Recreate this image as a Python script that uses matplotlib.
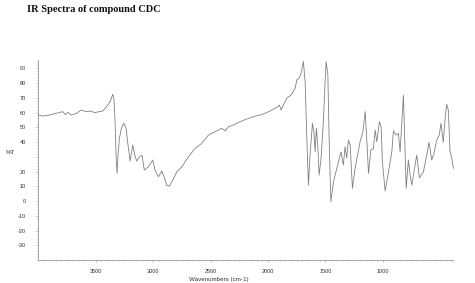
import matplotlib.pyplot as plt
from matplotlib.ticker import MultipleLocator

wavenumber = [3997, 3962, 3904, 3846, 3787, 3765, 3744, 3715, 3672, 3628, 3584, 3541,
              3512, 3469, 3439, 3396, 3375, 3352, 3341, 3332, 3323, 3314, 3306, 3294,
              3277, 3256, 3236, 3219, 3201, 3178, 3160, 3143, 3120, 3097, 3077, 3042,
              3004, 2984, 2955, 2925, 2905, 2882, 2859, 2829, 2795, 2751, 2693, 2635,
              2577, 2519, 2461, 2403, 2374, 2345, 2302, 2243, 2185, 2127, 2070, 2026,
              1982, 1967, 1915, 1901, 1886, 1866, 1837, 1799, 1764, 1749, 1727, 1712,
              1692, 1677, 1662, 1648, 1634, 1613, 1599, 1590, 1579, 1567, 1555, 1538,
              1518, 1503, 1494, 1479, 1468, 1453, 1430, 1401, 1364, 1344, 1329, 1315,
              1300, 1285, 1265, 1242, 1198, 1174, 1154, 1139, 1125, 1105, 1082, 1067,
              1053, 1030, 1015, 1004, 980, 951, 922, 908, 885, 865, 850, 835,
              821, 806, 797, 778, 763, 748, 719, 705, 682, 647, 618, 598,
              575, 555, 531, 509, 494, 474, 459, 444, 430, 415, 400, 386]
transmittance = [58.3, 57.6, 58.3, 59.5, 60.6, 58.6, 60.1, 58.3, 59.2, 61.7, 60.6, 61.0,
                 59.9, 60.6, 61.0, 65.0, 67.3, 72.4, 68.5, 53.8, 31.0, 18.8, 31.0, 42.5,
                 49.3, 52.7, 49.3, 38.0, 27.1, 38.0, 31.0, 27.1, 30.0, 31.0, 21.0, 23.2,
                 27.8, 21.0, 16.5, 20.3, 16.5, 10.8, 10.1, 14.2, 19.8, 23.2, 30.0, 35.7,
                 39.1, 44.7, 47.0, 49.3, 47.5, 50.4, 51.5, 53.8, 55.6, 57.2, 58.3, 59.5,
                 61.0, 61.7, 64.0, 65.1, 61.7, 65.1, 69.6, 71.9, 76.4, 82.1, 83.6, 86.6,
                 94.5, 80.9, 42.5, 10.8, 31.2, 52.7, 45.9, 33.4, 49.3, 38.0, 17.6, 29.0,
                 53.8, 80.9, 94.5, 85.5, 42.5, -0.5, 13.0, 22.2, 33.4, 24.4, 36.8, 29.0,
                 41.4, 38.0, 8.6, 22.2, 40.2, 47.0, 60.6, 40.2, 18.8, 34.6, 35.7, 48.1,
                 40.2, 53.8, 50.4, 26.6, 6.8, 19.8, 33.4, 47.5, 44.7, 45.9, 33.4, 53.8,
                 71.9, 31.2, 8.6, 27.8, 17.6, 10.8, 24.4, 31.2, 15.8, 19.8, 31.2, 39.8,
                 27.8, 32.3, 41.4, 44.7, 52.7, 39.8, 54.9, 65.6, 61.7, 33.4, 29.0, 22.2]

x_ticks = [3500, 3000, 2500, 2000, 1500, 1000]
y_ticks = [-30, -20, -10, 0, 10, 20, 30, 40, 50, 60, 70, 80, 90]
y_labels = ["-30", "-20", "-10", "0", "10", "20", "", "40", "50", "60", "70", "80", "90"]

fig = plt.figure(figsize=(4.75, 2.83), dpi=100)
ax = fig.add_axes([0.079, 0.081, 0.875, 0.707])

ax.plot(wavenumber, transmittance, color="#808080", linewidth=0.6, clip_on=False)

ax.set_xlim(4007, 388)
ax.set_ylim(-40, 95.6)
ax.set_xticks(x_ticks)
ax.set_yticks(y_ticks)
ax.set_yticklabels(y_labels)
ax.xaxis.set_minor_locator(MultipleLocator(50))
ax.yaxis.set_minor_locator(MultipleLocator(2))

for side in ["top", "right"]:
    ax.spines[side].set_visible(False)
for side in ["left", "bottom"]:
    ax.spines[side].set_color("#9a9a9a")
    ax.spines[side].set_linewidth(0.6)

ax.tick_params(which="both", colors="#9a9a9a", width=0.5, labelcolor="#333333",
               labelsize=4, direction="out")
ax.tick_params(which="major", length=1.5)
ax.tick_params(axis="y", which="major", pad=7)
ax.tick_params(axis="x", which="major", pad=5)
ax.tick_params(which="minor", length=1.0)
for lab in ax.get_xticklabels() + ax.get_yticklabels():
    lab.set_family("Liberation Sans")

fig.text(0.057, 0.965, "IR Spectra of compound CDC", family="Liberation Serif",
         weight="bold", fontsize=7.5, ha="left", va="center", color="#111111")
fig.text(0.461, 0.012, "Wavenumbers (cm-1)", family="Liberation Sans",
         fontsize=4.5, ha="center", va="center", color="#333333")
fig.text(0.012, 0.46, "%T", family="Liberation Sans", fontsize=4.5,
         ha="left", va="center", color="#333333")

plt.savefig("out.png", dpi=100)
